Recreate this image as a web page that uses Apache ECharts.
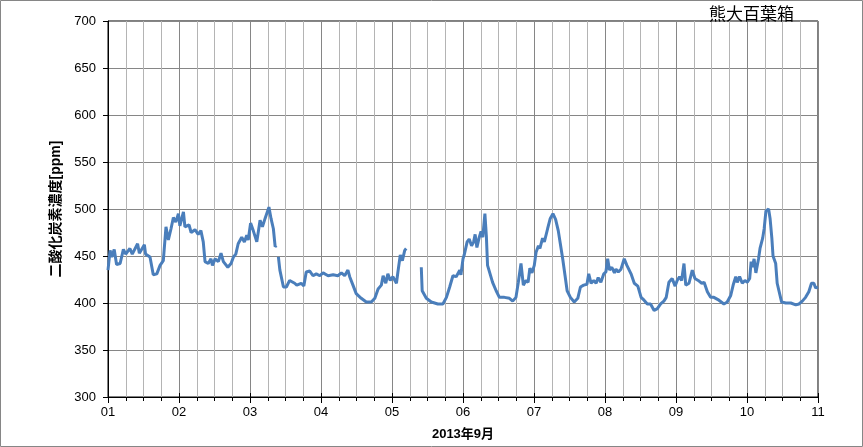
<!DOCTYPE html>
<html><head><meta charset="utf-8">
<script src="https://cdn.jsdelivr.net/npm/echarts@6/dist/echarts.min.js"></script>
<style>html,body{margin:0;padding:0;background:#fff}#c{width:863px;height:447px}</style>
</head><body><div id="c"></div>
<script>
// hours since 2013-09-01 00:00
const hours = [0,0.7,1.25,2.1,2.9,4.1,5.2,6.0,7.4,8.2,10.0,10.6,12.3,12.7,14.2,15.3,16.5,17.6,18.7,19.6,20.4,21.3,22.1,22.9,23.8,24.3,25.5,26.0,27.4,28.1,29.4,30.5,31.4,32.2,32.8,33.9,34.8,35.3,36.2,37.3,38.2,39.0,40.5,41.6,42.4,43.2,44.0,45.2,46.1,46.9,47.4,48.2,49.1,50.3,51.4,52.2,53.1,54.4,55.1,55.9,56.5,57.0,57.3,
57.6,58.1,59.3,59.8,60.3,61.4,63.1,63.8,64.2,65.3,66.2,67.0,68.2,69.3,70.4,71.6,72.7,74.4,76.1,77.7,78.9,80.0,81.1,81.7,82.8,83.9,85.6,87.3,89.0,90.2,91.3,92.4,93.0,93.9,94.6,95.4,96.3,97.5,98.0,98.8,99.5,100.3,100.8,103,
105.9,106.2,107.6,109.3,111.5,113.2,114.4,115.5,116.6,117.7,118.9,119.3,120.0,120.4,121.4,122.1,122.9,123.6,124.1,124.7,125.5,126.1,126.7,127.4,127.9,128.3,128.9,130.0,131.2,132.3,134.0,135.7,136.8,137.9,138.7,139.6,140.4,141.3,142.0,142.6,143.3,144.1,144.7,145.5,146.0,146.9,147.5,148.6,149.5,150.4,151.3,152.2,152.9,153.7,154.5,155.2,156.3,157.6,158.8,159.7,160.8,161.9,162.5,163.3,164.2,165.0,165.7,166.6,167.6,168.3,168.9,169.5,170.3,171.2,171.7,172.5,173.4,174.5,175.4,176.8,177.9,179.1,180.2,181.2,182.3,183.4,184.6,185.7,186.8,187.9,188.7,189.6,190.7,191.7,192.4,193.2,193.9,194.7,195.3,196.4,197.5,198.4,199.5,200.7,201.5,202.6,203.7,204.8,206.5,208.2,209.3,210.5,211.4,212.2,212.7,213.5,214.4,215.3,216.1,216.9,217.4,217.8,218.4,219.0,219.9,220.4,221.3,221.8,222.4,223.3,223.8,224.4,224.8,225.7,226.2,226.8,227.7,229.1,230.8,232.5,233.6,234.7,235.8,236.9,237.8,238.6,239.2,240];
const co2 = [435,456,449,457,441,442,457,452,458,452,463,453,462,452,449,430,431,440,445,481,467,479,491,486,495,482,497,481,483,475,478,473,477,465,444,442,447,440,447,444,453,444,438,442,449,452,463,470,465,472,467,485,477,465,488,481,490,502,490,479,460,461,null,
449,435,417,415,417,424,421,419,419,421,418,433,434,429,431,429,432,429,430,429,432,429,435,428,419,410,405,401,401,405,415,419,429,421,431,424,428,421,433,451,445,456,458,null,
438,413,405,401,399,399,406,417,429,428,435,430,447,451,465,468,461,465,473,459,470,476,470,495,471,440,438,422,413,406,406,405,402,406,422,442,419,424,422,437,432,440,454,461,458,469,465,479,490,495,489,477,463,447,429,413,406,401,405,417,419,420,431,421,424,421,427,422,431,433,447,435,438,432,436,433,436,447,440,431,421,418,406,403,399,399,392,394,399,402,406,422,426,418,424,428,424,442,419,421,435,426,424,421,422,412,406,406,403,399,401,408,420,428,422,428,421,424,422,426,444,438,447,432,447,458,469,479,498,500,490,469,450,442,421,419,401,400,400,398,399,402,406,412,421,421,416,417];
const dayLabels = ['01','02','03','04','05','06','07','08','09','10','11'];
const yTicks = [300,350,400,450,500,550,600,650,700];

const chart = echarts.init(document.getElementById('c'), null, {renderer:'canvas'});
const font = 'Liberation Sans, "Noto Sans CJK JP", sans-serif';
const base = {type:'value', min:0, max:240, gridIndex:0, position:'bottom'};
chart.setOption({
  animation:false,
  backgroundColor:'#fff',
  graphic:[{type:'rect', shape:{x:0.5,y:0.5,width:862,height:446}, style:{fill:'none',stroke:'#868686',lineWidth:1}, silent:true, z:100}],
  title:{text:'熊大百葉箱', left:704, top:0, textStyle:{fontSize:17, fontWeight:'normal', color:'#000', fontFamily:'"Noto Sans CJK JP", sans-serif'}},
  grid:{left:108, top:21, right:45, bottom:50, show:true, borderColor:'#000', borderWidth:1, containLabel:false},
  xAxis:[
    Object.assign({}, base, {interval:6, axisLine:{show:true,lineStyle:{color:'#000',width:1}},
      axisTick:{show:true,length:4,inside:false,lineStyle:{color:'#000'}}, axisLabel:{show:false},
      splitLine:{show:true,lineStyle:{color:'#b4b4b4',width:1}}}),
    Object.assign({}, base, {interval:24, axisLine:{show:false},
      axisTick:{show:true,length:6,inside:false,lineStyle:{color:'#000'}},
      axisLabel:{show:true, margin:9, color:'#000', fontSize:13, fontFamily:font,
        formatter:v => (v%24===0) ? dayLabels[v/24] : ''},
      splitLine:{show:true,lineStyle:{color:'#868686',width:1}},
      name:'2013年9月', nameLocation:'middle', nameGap:31,
      nameTextStyle:{fontSize:13, fontWeight:'bold', color:'#000', fontFamily:font}}),
    Object.assign({}, base, {interval:24, axisLine:{show:false},
      axisTick:{show:true,length:4,inside:true,lineStyle:{color:'#000'}}, axisLabel:{show:false}, splitLine:{show:false}})
  ],
  yAxis:{type:'value', min:yTicks[0], max:yTicks[yTicks.length-1], interval:50,
    axisLine:{show:true,lineStyle:{color:'#000'}},
    axisTick:{show:true,length:5,inside:false,lineStyle:{color:'#000'}},
    axisLabel:{margin:12, color:'#000', fontSize:13, fontFamily:font},
    splitLine:{show:true,lineStyle:{color:'#868686',width:1}},
    name:'二酸化炭素濃度[ppm]', nameLocation:'middle', nameGap:39, nameRotate:90,
    nameTextStyle:{fontSize:14, fontWeight:'bold', color:'#000', fontFamily:font}},
  series:[{type:'line', xAxisIndex:0, showSymbol:false, symbol:'none', connectNulls:false,
    lineStyle:{color:'#4a7ebb', width:3}, itemStyle:{color:'#4a7ebb'},
    data: hours.map((h,i)=>[h, co2[i]===null ? '-' : co2[i]])}]
});
</script></body></html>
